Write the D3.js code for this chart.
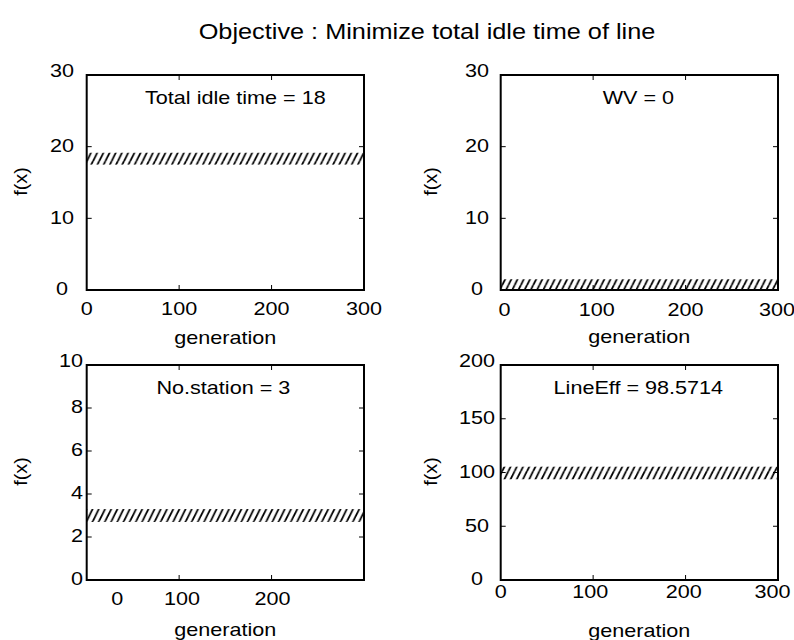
<!DOCTYPE html>
<html>
<head>
<meta charset="utf-8">
<script src="https://cdn.jsdelivr.net/npm/d3@7"></script>
<style>
  html, body { margin: 0; padding: 0; background: #fff; }
  svg { display: block; }
  text { font-family: "Liberation Sans", Arial, Helvetica, sans-serif; fill: #000; }
</style>
</head>
<body>
<svg id="chart" width="794" height="640"></svg>
<script>
// ---------------- data ----------------
const titleText = "Objective : Minimize total idle time of line";
const xLabel = "generation";
const yLabel = "f(x)";
const annotations = ["Total idle time = 18", "WV = 0", "No.station = 3", "LineEff = 98.5714"];
const bestValues = [18, 0, 3, 98.5714];
const bandLow  = [17.5, -0.5, 2.7, 93.7];
const bandHigh = [19.15, 1.5, 3.3, 105.4];
const generationRange = [0, 300];
const yMax = [30, 30, 10, 200];
const yTicks = [
  [0, 10, 20, 30],
  [0, 10, 20, 30],
  [0, 2, 4, 6, 8, 10],
  [0, 50, 100, 150, 200]
];
const xTickMarks = [100, 200];
const xTickLabels = [
  ["0", "100", "200", "300"],
  ["0", "100", "200", "300"],
  ["0", "100", "200"],
  ["0", "100", "200", "300"]
];
const xTickLabelAt = [
  [0, 100, 200, 300],
  [4, 104, 200, 299],
  [33, 103, 201],
  [0, 97, 198, 294]
];

// ---------------- layout ----------------
const svg = d3.select("#chart");
const K = 1.2;          // horizontal text stretch of the reference
const FS = 18;
const boxes = [
  {x0: 86.7, x1: 364, y0: 75, y1: 290, xlabDy: 19, genY: 338, ylabX: 62, fxX: 21, ylabAnchor: "middle", annDx: 10},
  {x0: 500.7, x1: 778, y0: 75, y1: 290, xlabDy: 20, genY: 337, ylabX: 477, fxX: 431, ylabAnchor: "middle", annDx: -1},
  {x0: 86.7, x1: 364, y0: 365, y1: 580, xlabDy: 19, genY: 630, ylabX: 83, fxX: 21, ylabAnchor: "end", annDx: -2},
  {x0: 500.7, x1: 778, y0: 365, y1: 580, xlabDy: 12, genY: 631, ylabX: 477, fxX: 431, ylabAnchor: "middle", annDx: -1}
];

function label(g, x, y, s, anchor, size, k, rot) {
  return g.append("text")
    .attr("transform", `translate(${x},${y})` + (rot ? ` rotate(${rot})` : "") + ` scale(${k},1)`)
    .attr("text-anchor", anchor || "middle")
    .attr("dy", "0.36em")
    .style("font-size", (size || FS) + "px")
    .text(s);
}

// hatch pattern
const defs = svg.append("defs");
const pat = defs.append("pattern")
  .attr("id", "hatch")
  .attr("patternUnits", "userSpaceOnUse")
  .attr("width", 6.2).attr("height", 12.4);
pat.append("path")
  .attr("d", "M-6.2,12.4 L0,0 M0,12.4 L6.2,0 M6.2,12.4 L12.4,0")
  .attr("stroke", "#000").attr("stroke-width", 1.8).attr("fill", "none");

// title
label(svg, 427, 31, titleText, "middle", 22, 1.15);

boxes.forEach((b, i) => {
  const g = svg.append("g");
  const x = d3.scaleLinear().domain(generationRange).range([b.x0, b.x1]);
  const y = d3.scaleLinear().domain([0, yMax[i]]).range([b.y1, b.y0]);

  defs.append("clipPath").attr("id", "clip" + i)
    .append("rect").attr("x", b.x0).attr("y", b.y0)
    .attr("width", b.x1 - b.x0).attr("height", b.y1 - b.y0);

  // hatched band of best f(x) over all generations
  g.append("g").attr("clip-path", `url(#clip${i})`)
    .selectAll("rect").data([{lo: bandLow[i], hi: bandHigh[i]}]).join("rect")
    .attr("x", x(generationRange[0]))
    .attr("width", x(generationRange[1]) - x(generationRange[0]))
    .attr("y", d => y(d.hi))
    .attr("height", d => y(d.lo) - y(d.hi))
    .attr("fill", "url(#hatch)");

  // inner ticks (mirrored)
  const inner = yTicks[i].slice(1, -1);
  const tl = 5;
  g.selectAll("line.yl").data(inner).join("line")
    .attr("x1", b.x0).attr("x2", b.x0 + tl)
    .attr("y1", d => y(d)).attr("y2", d => y(d))
    .attr("stroke", "#000").attr("stroke-width", 1);
  g.selectAll("line.yr").data(inner).join("line")
    .attr("x1", b.x1).attr("x2", b.x1 - tl)
    .attr("y1", d => y(d)).attr("y2", d => y(d))
    .attr("stroke", "#000").attr("stroke-width", 1);
  g.selectAll("line.xb").data(xTickMarks).join("line")
    .attr("x1", d => x(d)).attr("x2", d => x(d))
    .attr("y1", b.y1).attr("y2", b.y1 - tl)
    .attr("stroke", "#000").attr("stroke-width", 1);
  g.selectAll("line.xt").data(xTickMarks).join("line")
    .attr("x1", d => x(d)).attr("x2", d => x(d))
    .attr("y1", b.y0).attr("y2", b.y0 + tl)
    .attr("stroke", "#000").attr("stroke-width", 1);

  // box
  g.append("rect")
    .attr("x", b.x0).attr("y", b.y0)
    .attr("width", b.x1 - b.x0).attr("height", b.y1 - b.y0)
    .attr("fill", "none").attr("stroke", "#000").attr("stroke-width", 2);

  // y tick labels
  yTicks[i].forEach((v, j) => {
    const off = (j === yTicks[i].length - 1) ? -4 : -1;
    label(g, b.ylabX, y(v) + off, String(v), b.ylabAnchor, FS, K);
  });
  // x tick labels
  xTickLabels[i].forEach((s, j) => {
    label(g, x(xTickLabelAt[i][j]), b.y1 + b.xlabDy, s, "middle", FS, K);
  });

  // axis titles
  label(g, (b.x0 + b.x1) / 2, b.genY, xLabel, "middle", FS, K);
  label(g, b.fxX, (b.y0 + b.y1) / 2 - 1, yLabel, "middle", FS, 1.1, -90);

  // annotation
  label(g, (b.x0 + b.x1) / 2 + b.annDx, b.y0 + 23, annotations[i], "middle", FS, K);
});
</script>
</body>
</html>
